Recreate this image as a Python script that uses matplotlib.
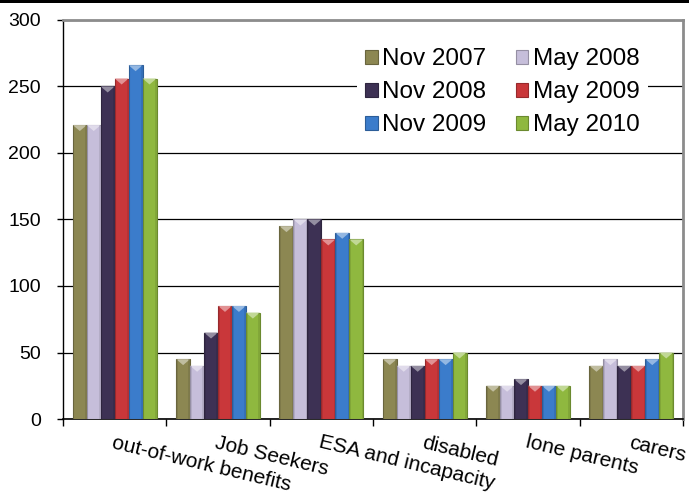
import matplotlib
matplotlib.use("Agg")
import matplotlib.pyplot as plt
import matplotlib.transforms as mtransforms
from matplotlib.patches import Polygon, Rectangle
from matplotlib.colors import to_rgb
import numpy as np

plt.rcParams['font.family'] = ['Liberation Sans', 'DejaVu Sans']

categories = ["out-of-work benefits", "Job Seekers", "ESA and incapacity",
              "disabled", "lone parents", "carers"]
series_names = ["Nov 2007", "May 2008", "Nov 2008", "May 2009", "Nov 2009", "May 2010"]
nov_2007 = [221, 45, 145, 45, 25, 40]
may_2008 = [221, 40, 150, 40, 25, 45]
nov_2008 = [250, 65, 150, 40, 30, 40]
may_2009 = [256, 85, 135, 45, 25, 40]
nov_2009 = [266, 85, 140, 45, 25, 45]
may_2010 = [256, 80, 135, 50, 25, 50]
series_values = [nov_2007, may_2008, nov_2008, may_2009, nov_2009, may_2010]
colors = ["#8C8752", "#C6BEDA", "#3D3154", "#C9373A", "#3B7CCB", "#8FB83F"]
yticks = [0, 50, 100, 150, 200, 250, 300]

W, H = 689, 497
fig = plt.figure(figsize=(W / 100, H / 100), dpi=100)
ax = fig.add_axes([63 / W, (H - 419) / H, (683 - 63) / W, (419 - 20) / H])

fig.patches.append(Rectangle((0, 1 - 3 / H), 1, 3 / H, transform=fig.transFigure,
                             facecolor="black", edgecolor="none", zorder=10))

x = np.arange(len(categories))
bw = 0.135
handles = []
for j, (name, vals, c) in enumerate(zip(series_names, series_values, colors)):
    pos = x + (j - 2.5) * bw
    rgb = np.array(to_rgb(c))
    dark = rgb * 0.75
    light = np.clip(rgb + (1 - rgb) * 0.45, 0, 1)
    bars = ax.bar(pos, vals, width=bw, color=c, edgecolor=dark, linewidth=0.8,
                  label=name, zorder=3)
    handles.append(bars)
    for p, v in zip(pos, vals):
        tri = Polygon([[p - bw / 2, v], [p + bw / 2, v], [p, v - 4.5]],
                      closed=True, facecolor=light, edgecolor="none", zorder=4)
        ax.add_patch(tri)
        ax.add_patch(Rectangle((p - bw / 2, 0), bw * 0.12, v, facecolor=dark,
                               edgecolor="none", alpha=0.35, zorder=4))
        ax.add_patch(Rectangle((p + bw / 2 - bw * 0.12, 0), bw * 0.12, v, facecolor=dark,
                               edgecolor="none", alpha=0.35, zorder=4))

ax.set_xlim(-0.5, len(categories) - 0.5)
ax.set_ylim(0, 300)
ax.set_yticks(yticks)
ax.set_yticklabels([str(t) for t in yticks], fontsize=14)
ax.tick_params(axis="y", direction="out", length=4, width=1, pad=12, color="black")
ax.yaxis.grid(True, color="black", linewidth=0.9, zorder=0)
ax.set_axisbelow(True)

ax.set_xticks(np.arange(len(categories) + 1) - 0.5)
ax.set_xticklabels([])
ax.tick_params(axis="x", direction="out", length=5, width=1, color="black")

ax.spines["left"].set_color("black")
ax.spines["bottom"].set_color("black")
ax.spines["left"].set_linewidth(1.0)
ax.spines["bottom"].set_linewidth(1.2)
ax.spines["top"].set_color("#8C8C8C")
ax.spines["right"].set_color("#8C8C8C")
ax.spines["top"].set_linewidth(2)
ax.spines["right"].set_linewidth(2)

trans = mtransforms.blended_transform_factory(ax.transData, ax.transAxes) + \
    mtransforms.ScaledTranslation(0, -0.14, fig.dpi_scale_trans)
for xi, cat in zip(x, categories):
    ax.text(xi, 0, cat, transform=trans, rotation=-13.5, rotation_mode="anchor",
            ha="left", va="top", fontsize=15, clip_on=False)

order = [0, 2, 4, 1, 3, 5]
leg = ax.legend([handles[i] for i in order], [series_names[i] for i in order],
                ncol=2, loc="upper left", bbox_to_anchor=(0.474, 0.95),
                fontsize=17.5, frameon=True, fancybox=False, framealpha=1,
                facecolor="white", edgecolor="none", handlelength=0.5,
                handleheight=0.5, handletextpad=0.2, columnspacing=1.2,
                labelspacing=0.45, borderpad=0.35, borderaxespad=0)
leg.set_zorder(5)

fig.savefig("out.png", dpi=100)
